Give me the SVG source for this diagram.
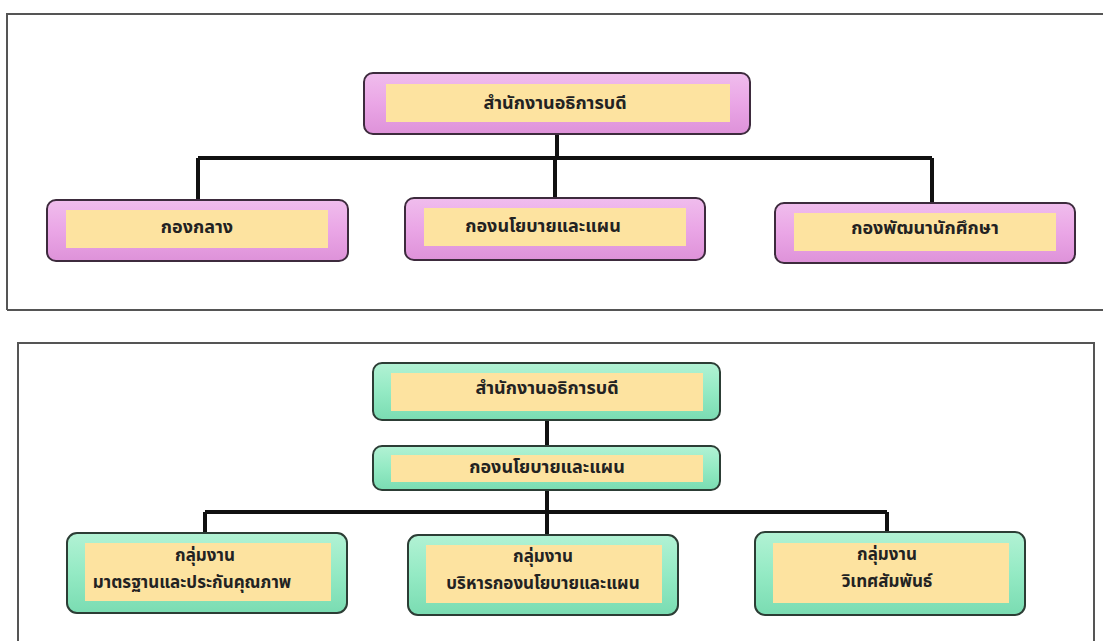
<svg xmlns="http://www.w3.org/2000/svg" width="1103" height="641" viewBox="0 0 1103 641">
<defs>
<linearGradient id="gp" x1="0" y1="0" x2="0" y2="1">
<stop offset="0" stop-color="#f0bded"/>
<stop offset="0.5" stop-color="#eaa6e6"/>
<stop offset="1" stop-color="#de92d9"/>
</linearGradient>
<linearGradient id="gg" x1="0" y1="0" x2="0" y2="1">
<stop offset="0" stop-color="#b2f2d4"/>
<stop offset="0.5" stop-color="#94eac4"/>
<stop offset="1" stop-color="#7adcb2"/>
</linearGradient>
<style>
.frame{fill:none;stroke:#555;stroke-width:2}
.op{fill:url(#gp);stroke:#3d2b3d;stroke-width:2}
.og{fill:url(#gg);stroke:#2c3d35;stroke-width:2}
.in{fill:#fde3a0}
.t{font-family:"Noto Sans Thai","Noto Sans","DejaVu Sans",sans-serif;font-size:18px;font-weight:bold;fill:#222;text-anchor:middle;dominant-baseline:middle}
.s{font-size:17px}
.c{fill:none;stroke:#111;stroke-width:4}
</style>
</defs>
<rect width="1103" height="641" fill="#fff"/>
<path class="frame" d="M7,310 V14 H1103 M7,310 H1103"/>
<path class="frame" d="M18,641 V343 H1094 V641"/>
<g id="connectors">
<path class="c" d="M557,134 V158 M198,158 H932 M198,158 V200 M555,158 V198 M932,158 V203"/>
<path class="c" d="M547,420 V446 M547,490 V512 M205,512 H887 M205,512 V533 M547,512 V535 M887,512 V532"/>
</g>
<g id="top-root">
<rect class="op" x="364" y="73" width="386" height="61" rx="9"/>
<rect class="in" x="386" y="84" width="344" height="38"/>
<text class="t" x="555" y="104">สำนักงานอธิการบดี</text>
</g>
<g id="top-left">
<rect class="op" x="47" y="200" width="301" height="61" rx="9"/>
<rect class="in" x="66" y="210" width="262" height="38"/>
<text class="t" x="197" y="228">กองกลาง</text>
</g>
<g id="top-mid">
<rect class="op" x="405" y="198" width="300" height="62" rx="9"/>
<rect class="in" x="424" y="208" width="262" height="38"/>
<text class="t" x="543" y="227">กองนโยบายและแผน</text>
</g>
<g id="top-right">
<rect class="op" x="775" y="203" width="300" height="60" rx="9"/>
<rect class="in" x="794" y="213" width="262" height="38"/>
<text class="t" x="925" y="229">กองพัฒนานักศึกษา</text>
</g>
<g id="bot-root">
<rect class="og" x="373" y="363" width="347" height="57" rx="9"/>
<rect class="in" x="391" y="373" width="312" height="38"/>
<text class="t" x="547" y="389">สำนักงานอธิการบดี</text>
</g>
<g id="bot-second">
<rect class="og" x="373" y="446" width="347" height="44" rx="9"/>
<rect class="in" x="391" y="455" width="312" height="27"/>
<text class="t" x="547" y="468">กองนโยบายและแผน</text>
</g>
<g id="bot-left">
<rect class="og" x="67" y="533" width="280" height="80" rx="10"/>
<rect class="in" x="85" y="543" width="246" height="58"/>
<text class="t s" x="205" y="556">กลุ่มงาน</text>
<text class="t s" x="192" y="583">มาตรฐานและประกันคุณภาพ</text>
</g>
<g id="bot-mid">
<rect class="og" x="408" y="535" width="270" height="80" rx="10"/>
<rect class="in" x="426" y="545" width="236" height="58"/>
<text class="t s" x="543" y="557">กลุ่มงาน</text>
<text class="t s" x="543" y="584">บริหารกองนโยบายและแผน</text>
</g>
<g id="bot-right">
<rect class="og" x="755" y="532" width="270" height="83" rx="10"/>
<rect class="in" x="773" y="543" width="236" height="60"/>
<text class="t s" x="887" y="555">กลุ่มงาน</text>
<text class="t s" x="887" y="582">วิเทศสัมพันธ์</text>
</g>
</svg>
